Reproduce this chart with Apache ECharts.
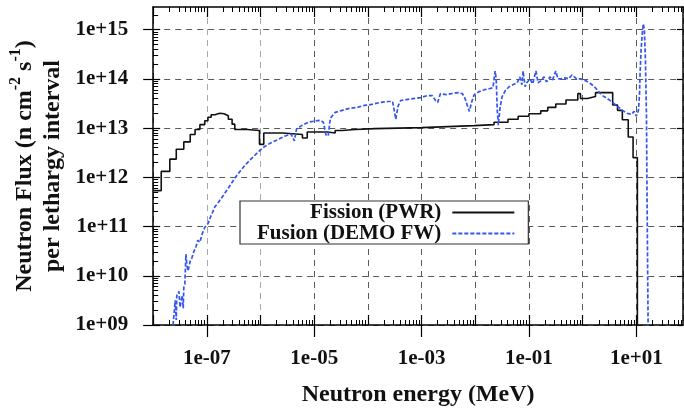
<!DOCTYPE html>
<html><head><meta charset="utf-8">
<script src="https://cdn.jsdelivr.net/npm/echarts@6/dist/echarts.min.js"></script>
<style>html,body{margin:0;padding:0;background:#fff}#c{width:684px;height:412px}</style>
</head><body><div id="c"></div>
<script>
// ---- data (log10 of energy in MeV, log10 of flux) ----
const seriesNames = ['Fission (PWR)', 'Fusion (DEMO FW)'];
const fissionLogE = [-8.00,-7.85,-7.69,-7.57,-7.43,-7.31,-7.22,-7.13,-7.04,-6.98,-6.92,-6.85,-6.76,-6.68,-6.60,-6.53,-6.48,-6.25,-6.02,-5.94,-5.59,-5.22,-5.13,-4.75,-4.61,-4.48,-4.24,-3.87,-3.00,-2.02,-1.65,-1.39,-1.20,-1.00,-0.78,-0.65,-0.50,-0.31,-0.09,-0.04,0.09,0.24,0.56,0.65,0.74,0.85,0.94,1.02];
const fissionLogFlux = [11.73,12.12,12.37,12.57,12.72,12.87,12.97,13.07,13.15,13.22,13.27,13.30,13.29,13.25,13.18,13.08,12.97,12.95,12.67,12.90,12.87,12.80,12.92,12.90,12.95,12.97,12.99,13.01,13.05,13.07,13.12,13.18,13.24,13.29,13.35,13.42,13.49,13.57,13.70,13.60,13.64,13.72,13.47,13.36,13.17,12.82,12.40,8.5];
const fusionLogE = [-7.63,-7.61,-7.59,-7.57,-7.56,-7.52,-7.50,-7.46,-7.44,-7.43,
 -7.41,-7.39,-7.37,-7.35,-7.31,-7.28,-7.24,-7.20,-7.17,-7.13,
 -7.09,-7.04,-6.98,-6.93,-6.85,-6.78,-6.70,-6.59,-6.48,-6.37,
 -6.26,-6.15,-6.02,-5.93,-5.81,-5.69,-5.54,-5.43,-5.37,-5.33,
 -5.22,-5.11,-5.00,-4.89,-4.83,-4.78,-4.74,-4.70,-4.61,-4.48,
 -4.35,-4.20,-4.07,-3.93,-3.78,-3.63,-3.54,-3.50,-3.48,-3.44,
 -3.39,-3.28,-3.15,-3.02,-2.89,-2.80,-2.74,-2.70,-2.65,-2.54,
 -2.44,-2.33,-2.24,-2.19,-2.13,-2.11,-2.07,-2.02,-1.93,-1.83,
 -1.74,-1.67,-1.63,-1.61,-1.59,-1.57,-1.54,-1.50,-1.44,-1.37,
 -1.30,-1.22,-1.17,-1.13,-1.11,-1.07,-1.04,-0.98,-0.93,-0.87,
 -0.83,-0.78,-0.72,-0.67,-0.61,-0.56,-0.50,-0.46,-0.41,-0.33,
 -0.26,-0.20,-0.17,-0.11,-0.04,0.06,0.15,0.22,0.30,0.37,
 0.46,0.56,0.65,0.74,0.83,0.91,0.96,1.00,1.04,1.06,
 1.07,1.09,1.11,1.13,1.15,1.17,1.19,1.20,1.22,1.23];
const fusionLogFlux = [9.0,9.24,9.5,9.1,9.6,9.68,9.36,9.6,9.34,9.76,
 9.84,10.44,10.2,10.1,10.3,10.36,10.5,10.6,10.72,10.68,
 10.84,10.98,11.06,11.2,11.4,11.5,11.62,11.8,11.98,12.14,
 12.28,12.4,12.54,12.62,12.7,12.76,12.84,12.88,12.74,12.98,
 13.06,13.12,13.14,13.16,13.12,12.86,12.84,13.2,13.32,13.36,
 13.4,13.42,13.46,13.48,13.52,13.54,13.54,13.30,13.18,13.44,
 13.56,13.58,13.6,13.62,13.66,13.66,13.56,13.52,13.7,13.68,
 13.7,13.72,13.7,13.6,13.4,13.34,13.52,13.68,13.74,13.78,
 13.8,13.82,14.16,14.0,13.36,13.06,13.4,13.64,13.76,13.84,
 13.88,13.92,14.04,13.88,14.16,13.84,13.92,14.0,13.9,14.16,
 13.92,13.96,14.04,13.94,14.04,13.98,14.16,14.0,14.0,14.02,
 14.0,14.08,14.1,14.0,14.0,13.96,13.9,13.84,13.74,13.66,
 13.6,13.52,13.44,13.36,13.3,13.28,13.34,13.24,13.36,13.7,
 14.1,14.6,14.9,15.12,15.0,14.4,13.2,11.6,9.0,8.8];
const xLabelExponents = [-7, -5, -3, -1, 1];
const xDecadeExponents = [-8, -7, -6, -5, -4, -3, -2, -1, 0, 1];
const yDecadeExponents = [9, 10, 11, 12, 13, 14, 15];
const minorMultipliers = [2, 3, 4, 5, 6, 7, 8, 9];

const X_MIN = -8, X_MAX = 1.87, Y_MIN = 9, Y_MAX = 15.46;
const FONT = 'Liberation Serif';
const TXT = '#111';

function minorTicks(decades, lo, hi) {
  const out = [];
  decades.forEach(n => minorMultipliers.forEach(k => {
    const v = n + Math.log10(k);
    if (v > lo && v < hi) out.push(v);
  }));
  return out;
}
const xMinor = minorTicks(xDecadeExponents, X_MIN, X_MAX);
const yMinor = minorTicks(yDecadeExponents, Y_MIN, Y_MAX);

function expLabel(v) {
  const n = Math.round(v);
  const a = Math.abs(n);
  return '1e' + (n < 0 ? '-' : '+') + (a < 10 ? '0' + a : '' + a);
}

function ax(min, max, position, extra) {
  return Object.assign({
    type: 'value', gridIndex: 0, min: min, max: max, position: position,
    splitLine: { show: false },
    axisLabel: { show: false },
    axisLine: { show: false, onZero: false },
    axisTick: { show: false }
  }, extra);
}
const tickLine = { color: '#000', width: 1.2 };

const xSplitColors = xDecadeExponents.map(n => (n === -7 || n === -6) ? '#a8a8a8' : '#5a5a5a');

const xAxis = [
  ax(X_MIN, X_MAX, 'bottom', {
    interval: 1,
    axisLine: { show: true, onZero: false, lineStyle: { color: '#000', width: 1.5 } },
    splitLine: { show: true, lineStyle: { type: [6, 5], width: 1, color: xSplitColors } },
    name: 'Neutron energy (MeV)', nameLocation: 'middle', nameGap: 58,
    nameTextStyle: { fontFamily: FONT, fontWeight: 'bold', fontSize: 24, color: TXT }
  }),
  ax(X_MIN, X_MAX, 'bottom', {
    axisTick: { show: true, inside: false, length: 12, customValues: xLabelExponents, lineStyle: tickLine },
    axisLabel: { show: true, customValues: xLabelExponents, formatter: expLabel, margin: 23,
      fontFamily: FONT, fontWeight: 'bold', fontSize: 21, color: TXT }
  }),
  ax(X_MIN, X_MAX, 'bottom', {
    axisTick: { show: true, inside: true, length: 10, customValues: xDecadeExponents, lineStyle: tickLine }
  }),
  ax(X_MIN, X_MAX, 'bottom', {
    axisTick: { show: true, inside: true, length: 5, customValues: xMinor, lineStyle: { color: '#000', width: 1 } }
  }),
  ax(X_MIN, X_MAX, 'top', {
    axisLine: { show: true, onZero: false, lineStyle: { color: '#000', width: 1.5 } },
    axisTick: { show: true, inside: true, length: 10, customValues: xDecadeExponents, lineStyle: tickLine }
  }),
  ax(X_MIN, X_MAX, 'top', {
    axisTick: { show: true, inside: true, length: 5, customValues: xMinor, lineStyle: { color: '#000', width: 1 } }
  })
];

const yAxis = [
  ax(Y_MIN, Y_MAX, 'left', {
    interval: 1,
    axisLine: { show: true, onZero: false, lineStyle: { color: '#000', width: 1.5 } },
    splitLine: { show: true, lineStyle: { type: [6, 5], width: 1, color: '#5a5a5a' } },
    axisTick: { show: true, inside: false, length: 10, customValues: yDecadeExponents, lineStyle: tickLine },
    axisLabel: { show: true, customValues: yDecadeExponents, formatter: expLabel, margin: 25,
      fontFamily: FONT, fontWeight: 'bold', fontSize: 21, color: TXT },
    name: '{a|Neutron Flux (n cm}{s|-2}{a| s}{s|-1}{a|)}\n{b|per lethargy interval}',
    nameLocation: 'middle', nameRotate: 90, nameGap: 85,
    nameTextStyle: {
      fontFamily: FONT, fontWeight: 'bold', fontSize: 24, color: TXT,
      rich: {
        a: { fontFamily: FONT, fontWeight: 'bold', fontSize: 24, color: TXT, lineHeight: 34 },
        s: { fontFamily: FONT, fontWeight: 'bold', fontSize: 16, color: TXT, lineHeight: 16, verticalAlign: 'top' },
        b: { fontFamily: FONT, fontWeight: 'bold', fontSize: 24, color: TXT, lineHeight: 21 }
      }
    }
  }),
  ax(Y_MIN, Y_MAX, 'left', {
    axisTick: { show: true, inside: true, length: 7, customValues: yDecadeExponents, lineStyle: tickLine }
  }),
  ax(Y_MIN, Y_MAX, 'left', {
    axisTick: { show: true, inside: true, length: 5, customValues: yMinor, lineStyle: { color: '#000', width: 1 } }
  }),
  ax(Y_MIN, Y_MAX, 'right', {
    axisLine: { show: true, onZero: false, lineStyle: { color: '#000', width: 1.5 } },
    axisTick: { show: true, inside: true, length: 6, customValues: yDecadeExponents, lineStyle: tickLine }
  })
];

const zip = (a, b) => a.map((v, i) => [v, b[i]]);

const option = {
  animation: false,
  backgroundColor: '#fff',
  grid: { left: 150, right: 1, top: 7, bottom: 82, containLabel: false },
  xAxis: xAxis,
  yAxis: yAxis,
  legend: {
    data: seriesNames,
    orient: 'vertical', align: 'right',
    left: 240, top: 201,
    itemWidth: 62, itemHeight: 14, itemGap: 0,
    padding: [1, 13, 0, 17],
    backgroundColor: '#fff', borderColor: '#333', borderWidth: 1.2, borderRadius: 0,
    itemStyle: { opacity: 0, borderWidth: 0 },
    textStyle: { fontFamily: FONT, fontWeight: 'bold', fontSize: 21, color: TXT, padding: [0, 6, 0, 0] }
  },
  series: [
    {
      name: seriesNames[0], type: 'line', step: 'end', symbol: 'none',
      xAxisIndex: 0, yAxisIndex: 0,
      lineStyle: { color: '#111', width: 1.6 },
      itemStyle: { color: '#111' },
      data: zip(fissionLogE, fissionLogFlux)
    },
    {
      name: seriesNames[1], type: 'line', symbol: 'none',
      xAxisIndex: 0, yAxisIndex: 0,
      lineStyle: { color: '#3355f0', width: 1.7, type: [4, 2] },
      itemStyle: { color: '#3355f0' },
      data: zip(fusionLogE, fusionLogFlux)
    }
  ]
};
const chart = echarts.init(document.getElementById('c'), null, { renderer: 'canvas' });
chart.setOption(option);
</script>
</body></html>
